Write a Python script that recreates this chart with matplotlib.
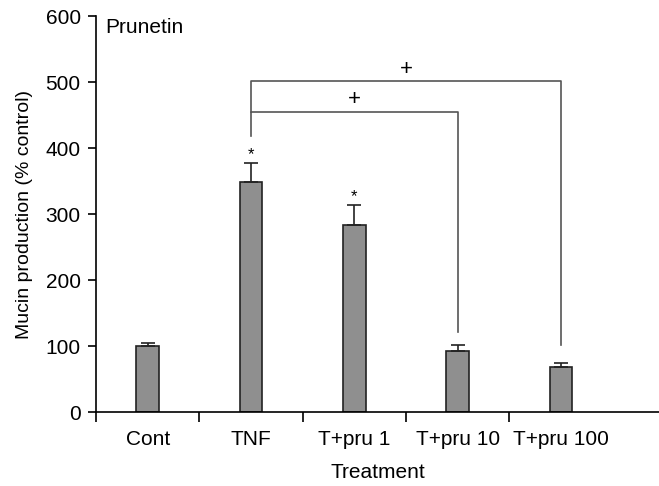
import numpy as np
import matplotlib.pyplot as plt

groups = ['Cont', 'TNF', 'T+pru 1', 'T+pru 10', 'T+pru 100']
mucin = [100, 348, 283, 93, 69]
err = [5, 30, 31, 8, 5]
stars = [False, True, True, False, False]

plt.rcParams['font.family'] = 'Liberation Sans'
plt.rcParams['font.size'] = 15

fig = plt.figure(figsize=(6.59, 4.86), dpi=100)
ax = fig.add_axes([0.1457, 0.152, 0.8543, 0.815])

x = np.arange(len(groups))
ax.bar(x, mucin, width=0.22, color='#8f8f8f', edgecolor='#222222', linewidth=1.2,
       yerr=[np.zeros(len(err)), err], error_kw=dict(ecolor='#222222', capsize=5, elinewidth=1.2, capthick=1.2),
       zorder=2)
for i in range(len(groups)):
    if stars[i]:
        ax.text(x[i], mucin[i] + err[i] + 12, '*', ha='center', va='center', fontsize=12)

# significance brackets
lc = '#555555'
ax.plot([1, 1, 3, 3], [418, 455, 455, 122], color=lc, lw=1.2)
ax.plot([1, 1, 4, 4], [455, 501, 501, 102], color=lc, lw=1.2)
ax.text(2.0, 474, '+', ha='center', va='center', fontsize=16)
ax.text(2.5, 519, '+', ha='center', va='center', fontsize=16)

ax.text(-0.41, 583, 'Prunetin', ha='left', va='center', fontsize=15)

ax.set_xlim(-0.5, 4.95)
ax.set_ylim(0, 600)
ax.set_yticks(range(0, 601, 100))
ax.set_xticks(x)
ax.set_xticklabels(groups)
ax.set_xticks(np.arange(-0.5, 4.0, 1), minor=True)
ax.tick_params(axis='x', which='major', length=0, pad=13)
ax.tick_params(axis='x', which='minor', length=7, width=1.2, direction='out')
ax.tick_params(axis='y', length=6, width=1.2, direction='out', pad=5)
ax.spines['top'].set_visible(False)
ax.spines['right'].set_visible(False)
ax.spines['left'].set_linewidth(1.2)
ax.spines['bottom'].set_linewidth(1.2)
ax.set_xlabel('Treatment', labelpad=10)
ax.set_ylabel('Mucin production (% control)', fontsize=14, labelpad=9)

plt.savefig('out.png', dpi=100)
